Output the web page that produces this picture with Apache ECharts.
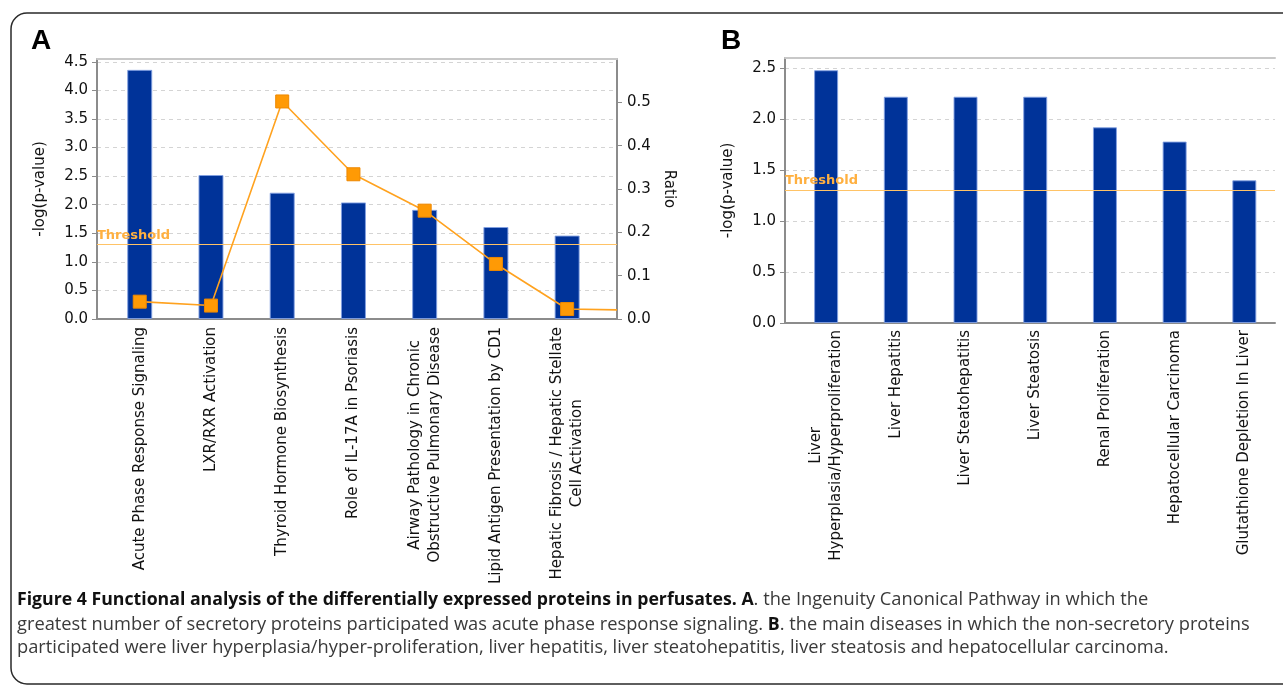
<!DOCTYPE html>
<html>
<head>
<meta charset="utf-8">
<script src="https://cdn.jsdelivr.net/npm/echarts@6/dist/echarts.min.js"></script>
<style>
  html, body { margin: 0; padding: 0; background: #fff; }
  #chart { width: 1283px; height: 688px; }
</style>
</head>
<body>
<div id="chart"></div>
<script>
// ---- data ----
const catsA = [
  'Acute Phase Response Signaling',
  'LXR/RXR Activation',
  'Thyroid Hormone Biosynthesis',
  'Role of IL-17A in Psoriasis',
  'Airway Pathology in Chronic\nObstructive Pulmonary Disease',
  'Lipid Antigen Presentation by CD1',
  'Hepatic Fibrosis / Hepatic Stellate\nCell Activation'
];
const pvalA = [4.36, 2.52, 2.21, 2.04, 1.91, 1.61, 1.46];
const ratioA = [0.040, 0.031, 0.502, 0.334, 0.250, 0.127, 0.023];
const ratioTailA = 0.021;           // ratio line continues to the plot edge
const catsB = [
  'Liver\nHyperplasia/Hyperproliferation',
  'Liver Hepatitis',
  'Liver Steatohepatitis',
  'Liver Steatosis',
  'Renal Proliferation',
  'Hepatocellular Carcinoma',
  'Glutathione Depletion In Liver'
];
const pvalB = [2.48, 2.22, 2.22, 2.22, 1.92, 1.78, 1.40];
const threshold = 1.3;
const xMinA = -0.6, xMaxA = 6.7;
const xMinB = -0.59, xMaxB = 6.44;
const yMaxA = 4.55, yMaxRatio = 0.6, yMaxB = 2.6;

const FONT = 'DejaVu Sans';
const BAR = '#003399';
const ORANGE = '#FFA21F';
const GRAY = '#8c8c8c';
const CAP = '18.3px "Open Sans"';
const CAPB = 'bold 17.7px "Open Sans"';

function catFormatter(cats) {
  return function (v) {
    const s = cats[Math.round(v)];
    if (s === undefined) return '';
    return s.split('\n').map(l => '{c|' + l + '}').join('\n');
  };
}
const idx = catsA.map((_, i) => i);

function xAxisBottom(gi, min, max, cats, margin) {
  return {
    type: 'value', gridIndex: gi, position: 'bottom', min: min, max: max,
    splitLine: { show: false },
    axisLine: { show: true, onZero: false, lineStyle: { color: GRAY, width: 2 } },
    axisTick: { show: false },
    axisLabel: {
      customValues: idx, rotate: 90, margin: margin,
      formatter: catFormatter(cats),
      rich: { c: { align: 'center', fontSize: 15, fontFamily: FONT, color: '#111', lineHeight: 20 } }
    }
  };
}
function xAxisTop(gi, min, max) {
  return {
    type: 'value', gridIndex: gi, position: 'top', min: min, max: max,
    splitLine: { show: false }, axisTick: { show: false }, axisLabel: { show: false },
    axisLine: { show: true, onZero: false, lineStyle: { color: '#c8c8c8', width: 2 } }
  };
}
function yAxisLeft(gi, max) {
  return {
    type: 'value', gridIndex: gi, position: 'left', min: 0, max: max, interval: 0.5,
    name: '-log(p-value)', nameLocation: 'middle', nameGap: 49, nameRotate: 90,
    nameTextStyle: { fontSize: 15, fontFamily: FONT, color: '#111' },
    axisLine: { show: true, onZero: false, lineStyle: { color: GRAY, width: 2 } },
    axisTick: { show: true, length: 5, lineStyle: { color: GRAY } },
    axisLabel: { showMaxLabel: false, margin: 9, fontSize: 15, fontFamily: FONT, color: '#111',
      formatter: v => v.toFixed(1) },
    splitLine: { show: true, lineStyle: { color: '#d4d4d4', type: [4, 4], width: 1 } }
  };
}
const barStyle = { color: BAR, borderColor: 'rgba(130,160,225,0.9)', borderWidth: 1 };
function thresholdLine() {
  return {
    silent: true, symbol: 'none',
    lineStyle: { color: '#FFC366', type: 'solid', width: 1.2 },
    label: { show: true, position: 'insideStartTop', formatter: 'Threshold', distance: [0, 3],
      color: '#FFB040', fontWeight: 'bold', fontSize: 13, fontFamily: FONT },
    data: [{ yAxis: threshold }]
  };
}

const ratioData = ratioA.map((r, i) => [i, r]);
ratioData.push({ value: [xMaxA, ratioTailA], symbol: 'none' });

const option = {
  animation: false,
  backgroundColor: '#fff',
  grid: [
    { left: 97, top: 59, width: 520, height: 260 },
    { left: 785, top: 58, width: 490, height: 265 }
  ],
  xAxis: [
    xAxisBottom(0, xMinA, xMaxA, catsA, 8),
    xAxisTop(0, xMinA, xMaxA),
    xAxisBottom(1, xMinB, xMaxB, catsB, 7),
    xAxisTop(1, xMinB, xMaxB)
  ],
  yAxis: [
    yAxisLeft(0, yMaxA),
    {
      type: 'value', gridIndex: 0, position: 'right', min: 0, max: yMaxRatio, interval: 0.1,
      name: 'Ratio', nameLocation: 'middle', nameGap: 44, nameRotate: -90,
      nameTextStyle: { fontSize: 15, fontFamily: FONT, color: '#111' },
      axisLine: { show: true, onZero: false, lineStyle: { color: GRAY, width: 2 } },
      axisTick: { show: true, length: 5, lineStyle: { color: GRAY } },
      axisLabel: { showMaxLabel: false, margin: 10, fontSize: 15, fontFamily: FONT, color: '#111',
        formatter: v => v.toFixed(1) },
      splitLine: { show: false }
    },
    yAxisLeft(1, yMaxB)
  ],
  series: [
    {
      type: 'bar', xAxisIndex: 0, yAxisIndex: 0, barWidth: 25,
      data: pvalA.map((v, i) => [i, v]), itemStyle: barStyle,
      markLine: thresholdLine()
    },
    {
      type: 'line', xAxisIndex: 0, yAxisIndex: 1, data: ratioData,
      symbol: 'rect', symbolSize: 13, showAllSymbol: true,
      lineStyle: { color: ORANGE, width: 1.6 },
      itemStyle: { color: '#FF9A05', borderColor: '#EE8800', borderWidth: 1 },
      z: 5
    },
    {
      type: 'bar', xAxisIndex: 2, yAxisIndex: 2, barWidth: 24,
      data: pvalB.map((v, i) => [i, v]), itemStyle: barStyle,
      markLine: thresholdLine()
    }
  ],
  graphic: [
    { type: 'rect', silent: true, shape: { x: 11, y: 13, width: 1320, height: 671, r: 16 },
      style: { fill: 'none', stroke: '#2a2a2a', lineWidth: 1.5 } },
    { type: 'text', left: 31, top: 27, style: { text: 'A', font: 'bold 28px "Liberation Sans"', fill: '#000' } },
    { type: 'text', left: 721, top: 27, style: { text: 'B', font: 'bold 28px "Liberation Sans"', fill: '#000' } },
    { type: 'text', left: 17, top: 591, style: {
        text: '{b|Figure 4 Functional analysis of the differentially expressed proteins in perfusates. A}{r|. the Ingenuity Canonical Pathway in which the}',
        rich: {
          b: { font: CAPB, fill: '#111' },
          r: { font: CAP, fill: '#3a3a3a' }
        } } },
    { type: 'text', left: 17, top: 616, style: {
        text: '{r|greatest number of secretory proteins participated was acute phase response signaling. }{b|B}{r|. the main diseases in which the non-secretory proteins}',
        rich: {
          b: { font: CAPB, fill: '#111' },
          r: { font: CAP, fill: '#3a3a3a' }
        } } },
    { type: 'text', left: 17, top: 639, style: {
        text: 'participated were liver hyperplasia/hyper-proliferation, liver hepatitis, liver steatohepatitis, liver steatosis and hepatocellular carcinoma.',
        font: CAP, fill: '#3a3a3a' } }
  ]
};

const chart = echarts.init(document.getElementById('chart'), null, { renderer: 'canvas' });
chart.setOption(option);
</script>
</body>
</html>
